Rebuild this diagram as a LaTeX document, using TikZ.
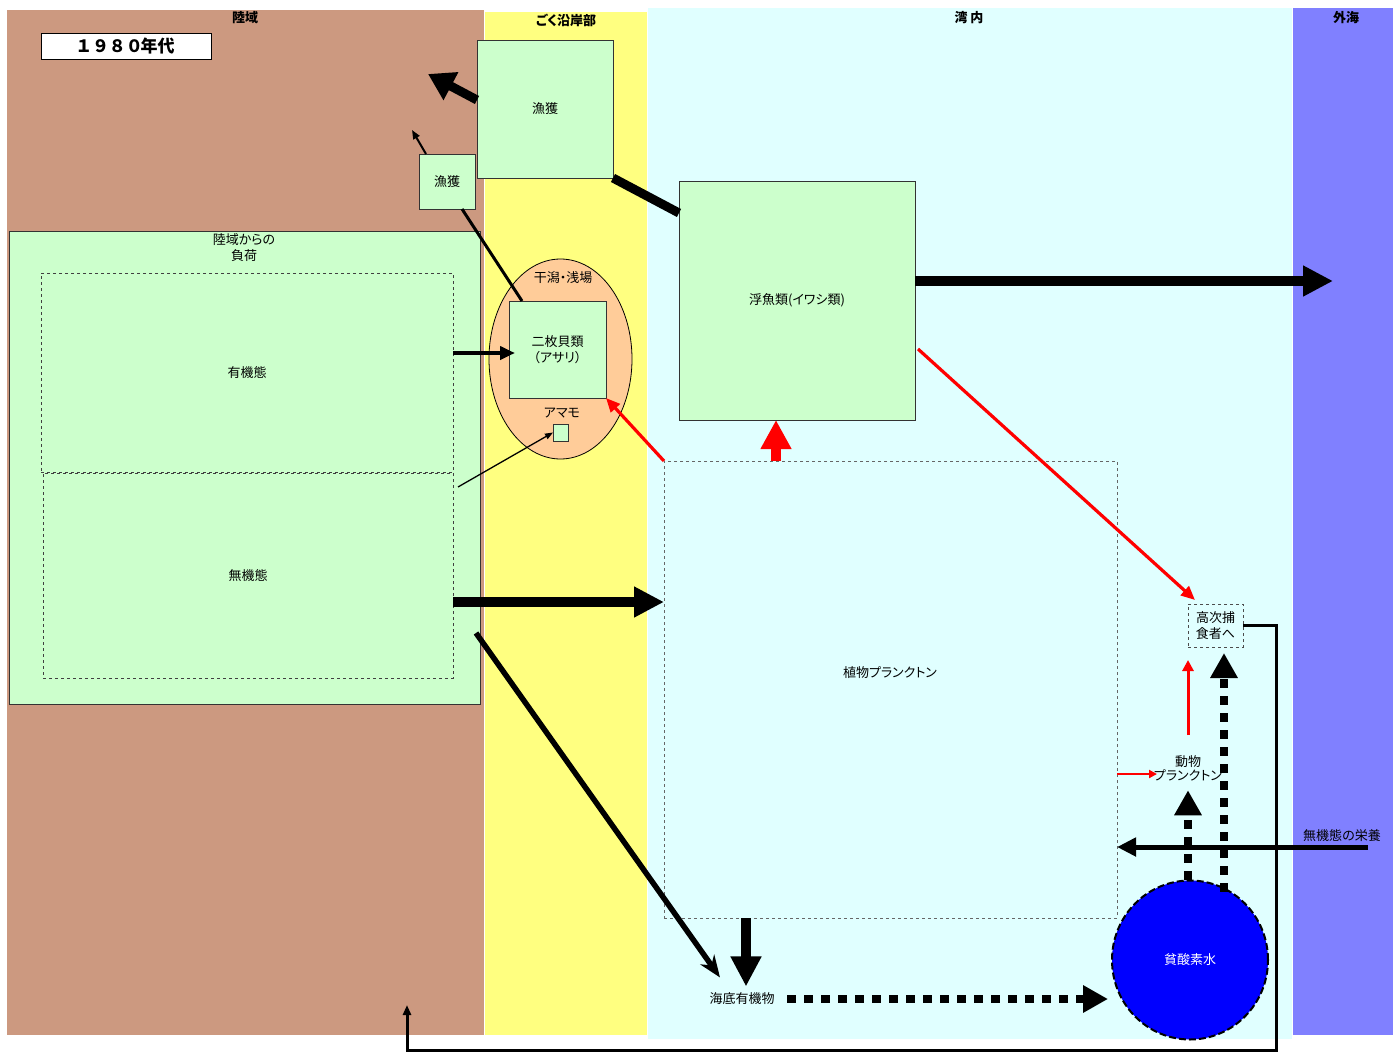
\documentclass[tikz,border=0pt]{standalone}
\usepackage{fontspec}
\setmainfont{Noto Sans CJK JP}[RawFeature=+palt]
\usetikzlibrary{shapes.geometric, arrows.meta}
\definecolor{landbrown}{RGB}{204,153,128}
\definecolor{coastyellow}{RGB}{255,255,128}
\definecolor{baycyan}{RGB}{224,255,255}
\definecolor{seaviolet}{RGB}{128,128,255}
\definecolor{boxgreen}{RGB}{204,255,204}
\definecolor{flatpeach}{RGB}{255,204,153}

\begin{document}
\begin{tikzpicture}[x=1pt,y=-1pt,
  font=\fontsize{13}{16}\selectfont,
  box/.style={draw=black!80, fill=boxgreen, line width=0.8pt, inner sep=0pt, outer sep=0pt, align=center},
  dashbox/.style={draw=black!60, dashed, line width=0.8pt, inner sep=0pt, outer sep=0pt, align=center},
  hdr/.style={font=\fontsize{13}{16}\selectfont\bfseries},
  heavy/.style={line width=9.5pt, -{Triangle[length=30pt,width=29pt]}},
  dotline/.style={line width=8.5pt, dash pattern=on 8.5pt off 8.5pt, -{Triangle[length=25pt,width=26pt]}},
  thinred/.style={red, line width=3.2pt, -{Triangle[length=14pt,width=12pt]}}]
\useasboundingbox (0,0) rectangle (1393,1052);
\fill[landbrown] (7,10) rectangle (484,1035);
\fill[coastyellow] (485,12) rectangle (647,1035);
\fill[baycyan] (648,8) rectangle (1292,1039);
\fill[seaviolet] (1293,8) rectangle (1393,1035);
\node[hdr] (rikuiki) at (245,18) {陸域};
\node[hdr] (engan) at (566,20) {ごく沿岸部};
\node[hdr] (wannai) at (969,18) {湾 内};
\node[hdr] (gaikai) at (1346,18) {外海};
\node[draw=black, fill=white, line width=0.8pt, minimum width=170pt, minimum height=26pt, inner sep=0pt, font=\fontsize{17}{20}\selectfont\bfseries] (nendai) at (126,46) {１ ９ ８ ０年代};

\node[box, minimum width=471pt, minimum height=473pt] (fuka) at (244.5,467.5) {};
\node[align=center] (fukatxt) at (244,248) {陸域からの\\負荷};
\node[dashbox, draw=black!75, minimum width=412pt, minimum height=199pt] (yuki) at (247,372.5) {有機態};
\node[dashbox, draw=black!75, minimum width=410pt, minimum height=205pt] (muki) at (248,575.5) {無機態};

\node[box, minimum width=136pt, minimum height=138pt] (gyokakuL) at (545,109) {漁獲};
\node[box, minimum width=56pt, minimum height=55pt] (gyokakuS) at (447,181.5) {漁獲};

\node[ellipse, draw=black, fill=flatpeach, line width=0.8pt, minimum width=143pt, minimum height=200pt, inner sep=0pt] (higata) at (560.5,359) {};
\node (higatatxt) at (563,278) {干潟・浅場};
\node[box, minimum width=97pt, minimum height=97pt] (nimai) at (557.5,349.5) {二枚貝類\\（アサリ）};
\node (amamotxt) at (562,413) {アマモ};
\node[box, minimum width=15pt, minimum height=17pt] (amamo) at (560.5,432.5) {};

\node[box, minimum width=236pt, minimum height=239pt] (uo) at (797,300.5) {浮魚類(イワシ類)};
\node[dashbox, minimum width=453pt, minimum height=457pt] (shokubutsu) at (890.5,689.5) {};
\node (shokubutsutxt) at (890,673) {植物プランクトン};

\node (kaitei) at (742,999) {海底有機物};
\node[ellipse, draw=black, fill=blue, text=white, line width=2pt, dash pattern=on 7pt off 3pt, minimum width=156pt, minimum height=159pt, inner sep=0pt] (hinsanso) at (1190,960) {貧酸素水};
\node[dashbox, draw=black!70, minimum width=55pt, minimum height=43pt] (koji) at (1215.5,625.5) {高次捕\\食者へ};
\node[align=center, font=\fontsize{13}{14}\selectfont] (dobutsu) at (1188,768) {動物\\プランクトン};
\node (eiyo) at (1342,836) {無機態の栄養};

\coordinate (rikuage) at (428,74);
\coordinate (rikuage2) at (412,130);
\coordinate (sotoumi) at (1333,281);
\coordinate (gaibu) at (1368,847);
\coordinate (modori) at (407,1005);

\draw[line width=9pt, -{Triangle[length=26pt,width=30pt]}] ([yshift=9pt]gyokakuL.west) -- (rikuage);
\draw[line width=2pt, -{Triangle[length=9pt,width=7pt]}] ([xshift=-21pt]gyokakuS.north) -- (rikuage2);
\draw[line width=9pt] ([yshift=87.5pt]uo.west) -- (gyokakuL.south east);
\draw[line width=3pt] ([xshift=-35.5pt]nimai.north) -- ([xshift=15pt]gyokakuS.south);
\draw[line width=4pt, -{Triangle[length=15pt,width=13pt]}] ([yshift=19.5pt]yuki.east) -- ([shift={(6pt,-3.5pt)}]nimai.west);
\draw[line width=1.3pt, -{Triangle[length=8pt,width=6pt]}] ([shift={(5pt,-14pt)}]muki.north east) -- (amamo.west);
\draw[thinred] (shokubutsu.north west) -- (nimai.south east);
\draw[red, line width=10pt, -{Triangle[length=29pt,width=29pt]}] ([xshift=-114.5pt]shokubutsu.north) -- ([xshift=-21pt]uo.south);
\draw[thinred] ([shift={(3pt,-48.5pt)}]uo.east) -- ([shift={(7pt,4pt)}]koji.north west);
\draw[heavy] ([yshift=19.5pt]uo.east) -- (sotoumi);
\draw[heavy] ([yshift=-26.5pt]muki.east) -- ([yshift=87.5pt]shokubutsu.west);
\draw[line width=5.5pt, -{Stealth[length=22pt,width=17pt]}] ([shift={(-4pt,-165.5pt)}]fuka.east) -- ([shift={(-22pt,12pt)}]kaitei.north);
\draw[line width=10pt, -{Triangle[length=30pt,width=29pt]}] ([xshift=-144.5pt]shokubutsu.south) -- ([shift={(4pt,3pt)}]kaitei.north);
\draw[dotline] ([xshift=9pt]kaitei.east) -- ([shift={(-3pt,-39pt)}]hinsanso.west);
\draw[dotline] (hinsanso.north -| dobutsu.south) -- ([yshift=-6pt]dobutsu.south);
\draw[dotline] ([shift={(34pt,-12pt)}]hinsanso.north) -- ([shift={(8.5pt,-6pt)}]koji.south);
\draw[red, line width=3pt, -{Triangle[length=11pt,width=11pt]}] ([yshift=16.5pt]dobutsu.north) -- ([shift={(-27.5pt,-13pt)}]koji.south);
\draw[red, line width=2pt, -{Triangle[length=8pt,width=8pt]}] ([yshift=-84.5pt]shokubutsu.east) -- ([shift={(-31pt,-6pt)}]dobutsu.center);
\draw[line width=5pt, -{Triangle[length=19pt,width=18pt]}] (gaibu) -- (gaibu -| shokubutsu.east);
\draw[line width=3pt, -{Triangle[length=10pt,width=8pt]}] (koji.east) -- ++(33,0) -- ++(0,425) -| (modori);
\end{tikzpicture}
\end{document}
